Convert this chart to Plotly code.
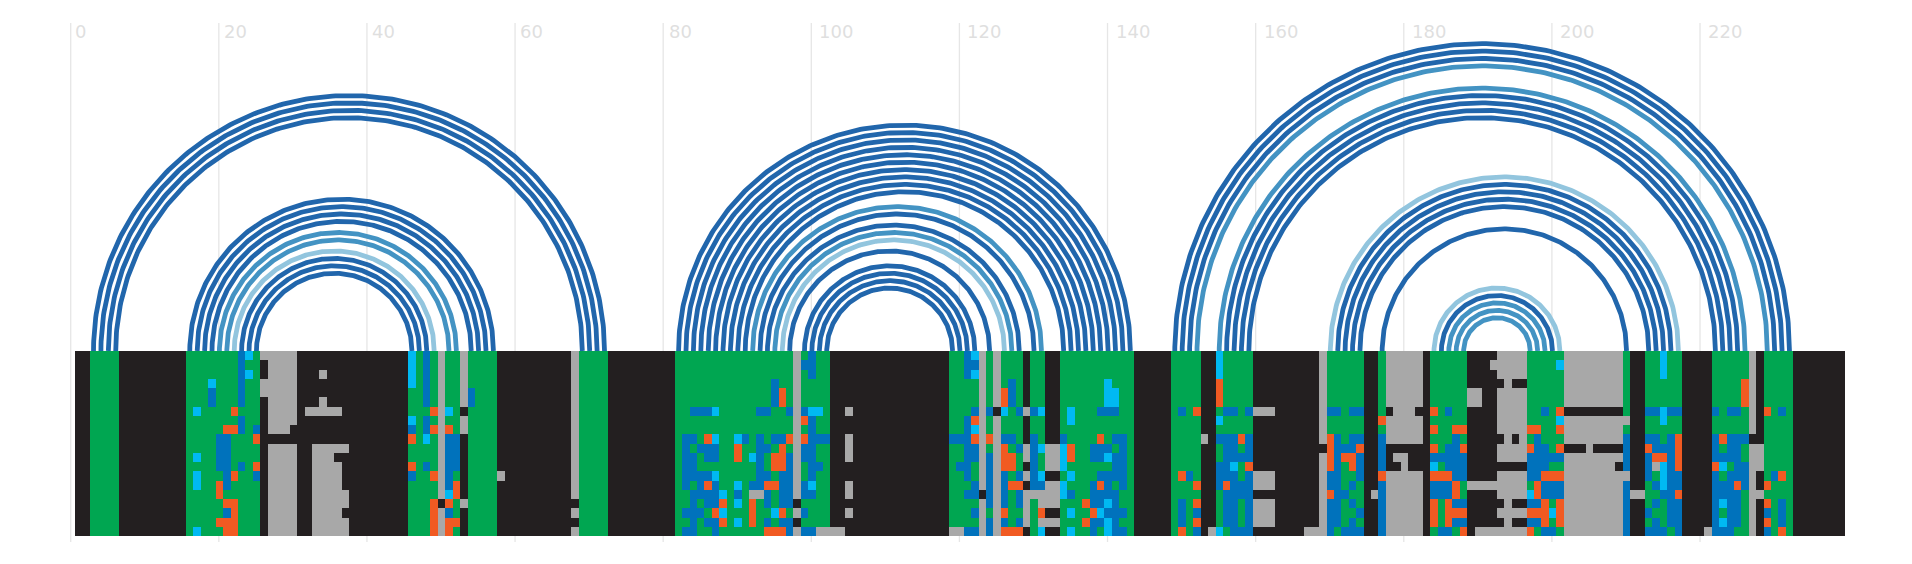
import re
import numpy as np
import plotly.graph_objects as go

W, H = 1912, 564
PX = 7.406           # pixels per column
X0_PX = 70.7         # pixel of position 0
OFFSET = 0.08
TOP, BOTTOM = 23, 542
BASE_PX, HEAT_END = 351, 536

TICKS = list(range(0, 221, 20))
LABEL_SHIFT = {1: 2, 2: 3.4, 3: 6}
N_COLS, N_ROWS = 239, 20
CODES = "KGSBCO"
COLOURS = ["#231F20", "#00A651", "#A8A8A8", "#0072BC", "#00B9F2", "#F15A22"]

# default colour of every column (from, to, code)
BASE = [(1,2,"K"),(3,6,"G"),(7,15,"K"),(16,25,"G"),(26,45,"K"),(46,49,"G"),(50,50,"S"),(51,52,"G"),
        (53,53,"K"),(54,57,"G"),(58,68,"K"),(69,72,"G"),(73,81,"K"),(82,97,"G"),(98,98,"S"),(99,102,"G"),
        (103,118,"K"),(119,122,"G"),(123,123,"S"),(124,124,"G"),(125,125,"S"),(126,128,"G"),(129,129,"K"),
        (130,131,"G"),(132,133,"K"),(134,143,"G"),(144,148,"K"),(149,152,"G"),(153,154,"K"),(155,159,"G"),
        (160,168,"K"),(169,169,"S"),(170,174,"G"),(175,176,"K"),(177,177,"G"),(178,182,"S"),(183,183,"K"),
        (184,188,"G"),(189,192,"K"),(193,196,"S"),(197,201,"G"),(202,209,"S"),(210,210,"G"),(211,212,"K"),
        (213,217,"G"),(218,221,"K"),(222,226,"G"),(227,227,"S"),(228,228,"K"),(229,232,"G"),(233,239,"K")]

# cells that differ from the column default: (rows, "cols+code ...")
CELLS = [
 ("0-5","23B"),("0","24C"),("2","24C"),("3","19C"),("4-5","19B"),("6","17C 22O"),("7-8","23B"),
 ("8","21-22O 25B"),("9","25O"),("9-12","20-21B"),("11","17C"),("12","23B 25O"),("13-14","21B 17C"),
 ("13","22O 25B"),("14-15","20O"),("16","21-22O"),("17","21B 22O"),("18","20-22O"),("19","17C 21-22O"),
 ("0","26S"),("3-4","26S"),("0-7","27-30S"),("8","27-29S"),("10-19","27-30S"),("2","34S"),("5","34S"),
 ("6","32-36S"),("10","33-37S"),("11","33-35S"),("12-14","33-36S"),("15-16","33-37S"),("17","33-36S"),
 ("18-19","33-37S"),
 ("0-3","46C"),("0-5","48B"),("6","49O 51C"),("7","46C"),("7-8","48B"),("8","46B 49O 51O"),("9","46O 48C"),
 ("9-12","51-52B"),("12","46O 48B"),("13","46B 49O"),("13-14","51B"),("14-15","52O"),("15","51C"),
 ("16-19","49O"),("16","51O 50K"),("17","51B"),("18","51-52O"),("19","51O"),("4-5","54B"),("0-5","53S"),
 ("7-8","53S"),("16","53S"),("13","58S"),("0-15","68S"),("17","68S"),("19","68S"),
 ("3-5","95B"),("4-5","96O"),("0-2","100B"),("1","99B"),
 ("6","84-86B 87C 93-94B 97B 99B 100-101C"),("7","99O"),("7-8","100B"),
 ("9","83-84B 86O 87C 90C 91B 93B 95-96B 97O 99O 100-102B"),
 ("10","83B 85-87B 90O 93-94B 96O 99-100B"),
 ("11","83-84B 86-87B 90O 92C 93B 95-96O 97B 99-100B"),
 ("12","83-84B 93B 95-96O 97B 100-101B"),
 ("13","83-86B 87C 93-94B 96-97B 100B"),
 ("14","83B 85B 86O 87B 90C 92-93B 94-95O 96-97B 99B 100C"),
 ("15","84-87B 88C 90B 92-93S 94B 96-97B 99-100B"),
 ("16","84B 86-87B 88O 90C 92O 94B 96-97B 98K"),
 ("17","83-85B 87O 88C 92O 95C 96O 99B"),
 ("18","84B 86-87B 88O 90C 92O 94B 96-97B 98K"),
 ("19","83-84B 87B 94-96O 97B 99-100B 101-104S"),
 ("6","105S"),("9-11","105S"),("14-15","105S"),("17","105S"),
 ("0-2","121B"),("7-8","121B"),("9","119-121B"),("10-11","121B"),("12","120-121B"),("13","121B"),("15","121B"),
 ("19","119-120S 121B"),
 ("0","122C"),("1","122B"),("2","122C"),("6","122B"),("7","122O"),("8","122C"),("9","122O"),("10-11","122B"),
 ("14-15","122B"),("17","122B"),("19","122B"),("15","123K"),
 ("6","124B"),("9","124O"),("11-16","124B"),("18-19","124B"),("6","125K"),
 ("4-5","126O"),("6","126C"),("9","126B"),("10-12","126O"),("13-16","126B"),("17","126O"),("18","126B"),("19","126O"),
 ("3-5","127B"),("9","127B"),("11-12","127O"),("14","127O"),("19","127O"),
 ("6","128B"),("10","128B"),("13","128B"),("14","128O"),("15-16","128B"),("18","128B"),("19","128O"),
 ("6","129S"),("10-11","129S"),("13","129S"),("15-18","129S"),
 ("6","130B"),("9-14","130B"),("15","130S"),
 ("6","131C"),("10","131C"),("13","131C"),("14","131B"),("15-16","131S"),("17","131O"),("18","131S"),("19","131C"),
 ("10-12","132-133S"),("14-16","132-133S"),("18","132-133S"),
 ("9","134B"),("10-12","134C"),("14-15","134C"),
 ("6-7","135C"),("10-11","135O"),("13","135C"),("15","135B"),("17","135C"),("19","135C"),
 ("3","140C"),("4-5","140-141C"),("6","139-141B"),("9","139O 141-142B"),("10","138-140B 142B"),
 ("11","138-139B 140C 141-142B"),("12","141-142B"),("13","139-142B"),("14","138B 139O 140B 142B"),
 ("15","138-141B"),("16","137O 138-139B 140C 141B"),("17","138O 139C 140-142B"),
 ("18","137O 138-139B 140C 141B"),("19","138B 140C 141-142B"),
 ("6","150B 152O"),("13","150O 151B"),("14","152O"),("16-18","150B"),("16","152O"),("17","152B"),("18","152O"),
 ("19","150O 152B 154S"),("9","153S"),
 ("0-2","155C"),("3-5","155O"),("7","155C"),("9","155B"),("12-14","155B"),("19","155C"),
 ("6","156-157B 159B"),("9-11","156-157B 159B"),("9","158O"),("11","158B"),("12","156B 157C 159O"),
 ("13","156-157B 159B"),("14","156O 157-159B"),("15","156-159B"),("16-18","156-157B 159B"),("19","157-159B"),
 ("6","160-162S"),("13-14","160-162S"),("16-18","160-162S"),("19","167-168S"),("10","169K"),
 ("6","170-171B 173-174B"),("9","170O 171B 173-174B"),("10","170O 171-173B 174O"),("11","170O 171B 172-173O 174B"),
 ("12","170O 171B 173O 174B"),("13","170-171B 174B"),("14","170-171B 173B"),("15","170O 171-172B"),
 ("16","170-171B 173B"),("17","170-171B 174B"),("18","170-171B 173B"),("19","170B 172-174B"),
 ("15","176S"),("7","177O"),("9-12","177B"),("13","177O"),("14-19","177B"),
 ("6","178K 182K"),("10","178-182K"),("11","178K 181-182K"),("12","178-179K 181-182K"),
 ("6","184O 186B"),("8","184O 187-188O"),("9","187B"),("10","184O 186-187B 188O"),("11","184-188B"),
 ("12","184C 186-188B"),("13","184-186O 187-188B"),("14-15","184-186B 187O"),("16","184O 186O 187-188B"),
 ("17","184O 186-188O"),("18","184O 186O 187-188B"),("19","185-186B 188O"),
 ("1","192S"),("3","193K 195-196K"),("4-5","189-190S"),("9","193K 195K"),("12","193-196K"),("14","189-192S"),
 ("16","193K 195-196K"),("18","193K 195-196K"),("19","190-192S"),
 ("1","201C"),("6","199B 201O"),("7","201C"),("8","197-198O 201O"),("9","198B"),("10","197O 198-199B 201O"),
 ("11","197-201B"),("12","197-199B"),("13","197-198B 199-201O"),("14","198O 199-201B"),("15","197C 198O 199-201B"),
 ("16","197-198B 199O 201O"),("17","197-199O 200C 201O"),("18","197-198B 199O 201O"),("19","197O 199-200B"),
 ("6","202-209K"),("10","202-204K 206-209K"),("12","209K"),("7","210S"),("13","210S"),("9-12","210B"),("14-19","210B"),
 ("15","211-212S"),
 ("0-2","215C"),("6","213-214B 215C 216-217B"),("7","215C"),("9","213-214B 216B 217O"),("10","213O 214-216B 217O"),
 ("11","213B 214-215O 216B 217O"),("12","213B 214S 215C 216B 217O"),("13","213B 215C 216-217B"),
 ("14","214B 215C 216-217B"),("15","215-216B 217O"),("16","214B 216-217B"),("17","213B 216-217B"),
 ("18","214B 216-217B"),("19","213-215B 217B"),("19","221S"),
 ("3-5","226O"),("6","222B 224-225B"),("9","222B 223O 224-226B"),("10","222B 224-225B"),("11","222-225B"),
 ("12","222O 223C 225-226B"),("13","222B 224-226B"),("14","222-224B 225O 226B"),("15","222-225B"),
 ("16","222B 223C 224-225B"),("17","222B 224-225B"),("18","222B 223C 224-225B"),("19","222-224B"),
 ("9","227K"),("10-12","228S"),("15","228S"),
 ("6","229O 231B"),("13","230B 231O"),("14","229O"),("16","229O 231B"),("17","229B 231B"),("18","229O 231B"),
 ("19","229B 231O"),
]

# base-pair arcs (left position, right position), one list per colour class
ARCS_DARK = [(3,72),(4,71),(5,70),(6,69),(16,57),(17,56),(18,55),(19,54),(23,48),(24,47),(25,46),
             (82,143),(83,142),(84,141),(85,140),(86,139),(87,138),(88,137),(89,136),(90,135),(91,134),
             (93,130),(94,128),(97,124),(99,122),(100,121),(101,120),(102,119),
             (149,232),(150,231),(151,230),(156,225),(157,224),(158,223),(159,222),
             (171,216),(172,215),(173,214),(174,213),(177,210),(185,200)]
ARCS_MID = [(20,52),(21,51),(92,131),(95,127),(152,229),(155,226),(186,199),(187,198),(188,197)]
ARCS_LIGHT = [(22,49),(96,126),(170,217),(184,201)]
ARC_COLOURS = {"#2166AC": ARCS_DARK, "#4393C3": ARCS_MID, "#92C5DE": ARCS_LIGHT}

# ---------- build the cell matrix ----------
z = np.zeros((N_ROWS, N_COLS), dtype=int)
for a, b, code in BASE:
    z[:, a - 1:b] = CODES.index(code)
for rows, spec in CELLS:
    parts = rows.split("-")
    r0, r1 = int(parts[0]), int(parts[-1])
    for tok in spec.split():
        m = re.fullmatch(r"(\d+)(?:-(\d+))?([A-Z])", tok)
        c0 = int(m.group(1))
        c1 = int(m.group(2) or c0)
        z[r0:r1 + 1, c0 - 1:c1] = CODES.index(m.group(3))

fig = go.Figure()

scale = []
for i, c in enumerate(COLOURS):
    scale += [[i / 6, c], [(i + 1) / 6, c]]
fig.add_trace(go.Heatmap(
    z=z.tolist(), x=[c + OFFSET for c in range(1, N_COLS + 1)], y=list(range(N_ROWS)),
    colorscale=scale, zmin=-0.5, zmax=5.5, showscale=False, hoverinfo="skip", yaxis="y2",
))

theta = np.linspace(0, np.pi, 241)
for colour, pairs in ARC_COLOURS.items():
    xs, ys = [], []
    for i, j in pairs:
        cx, r = (i + j) / 2 + OFFSET, (j - i) / 2
        xs += list(cx + r * np.cos(theta)) + [None]
        ys += list(r * np.sin(theta)) + [None]
    fig.add_trace(go.Scatter(x=xs, y=ys, mode="lines", hoverinfo="skip", showlegend=False,
                             line=dict(color=colour, width=4.8)))

plot_h = BOTTOM - TOP
split = (BOTTOM - BASE_PX) / plot_h
fig.update_layout(
    width=W, height=H, margin=dict(l=0, r=0, t=TOP, b=H - BOTTOM),
    paper_bgcolor="white", plot_bgcolor="rgba(0,0,0,0)", showlegend=False,
    xaxis=dict(range=[-X0_PX / PX, (W - X0_PX) / PX], visible=False, fixedrange=True),
    yaxis=dict(domain=[split, 1], range=[0, (BASE_PX - TOP) / PX], visible=False, fixedrange=True),
    yaxis2=dict(domain=[(BOTTOM - HEAT_END) / plot_h, split], range=[N_ROWS - 0.5, -0.5],
                visible=False, fixedrange=True),
    shapes=[dict(type="line", xref="x", yref="paper", x0=t, x1=t, y0=0, y1=1, layer="below",
                 line=dict(color="#E6E6E6", width=1.3)) for t in TICKS],
    annotations=[dict(x=t, y=(BOTTOM - 31) / plot_h, xref="x", yref="paper", text=str(t), showarrow=False,
                      xanchor="left", yanchor="middle", xshift=LABEL_SHIFT[len(str(t))],
                      font=dict(family="DejaVu Sans", size=18, color="#DFDFDF")) for t in TICKS],
)
fig.write_html("out.html", config={"displayModeBar": False}, post_script="document.body.style.margin='0';")
